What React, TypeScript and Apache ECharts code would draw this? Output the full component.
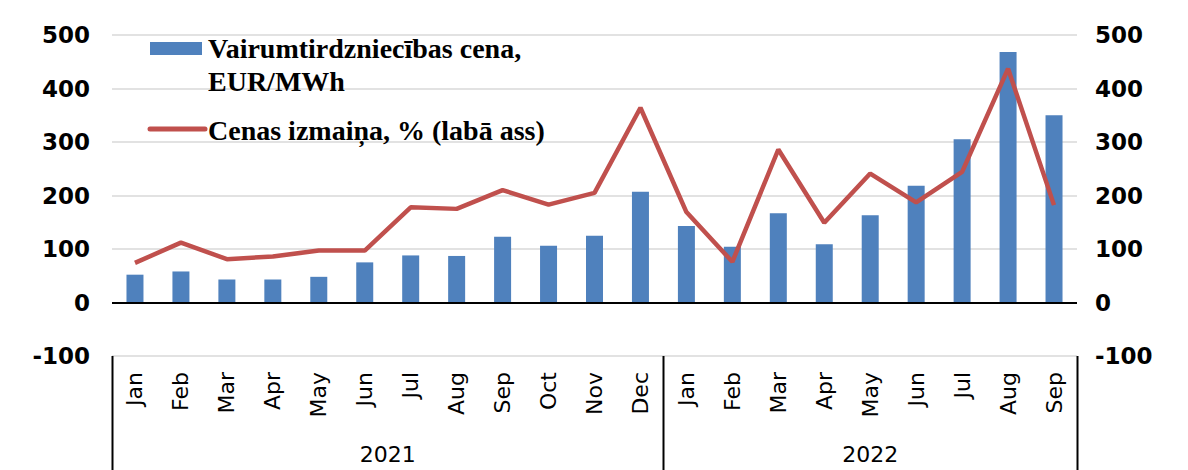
import React, { useEffect, useRef } from 'react';
import * as echarts from 'echarts';

const months = [
  'Jan', 'Feb', 'Mar', 'Apr', 'May', 'Jun', 'Jul', 'Aug', 'Sep', 'Oct', 'Nov', 'Dec',
  'Jan', 'Feb', 'Mar', 'Apr', 'May', 'Jun', 'Jul', 'Aug', 'Sep',
];
const years = ['2021', '2022'];
const yearCounts = [12, 9];

const priceName = 'Vairumtirdzniecības cena, EUR/MWh';
const changeName = 'Cenas izmaiņa, % (labā ass)';

const price = [52, 58, 43, 43, 48, 75, 88, 87, 123, 106, 125, 207, 143, 104, 167, 109, 163, 218, 305, 468, 350];
const change = [74, 112, 81, 86, 97, 97, 178, 175, 210, 183, 205, 364, 169, 76, 286, 149, 241, 187, 244, 437, 182];

const axisMin = -100;
const axisMax = 500;
const axisStep = 100;

export default function App() {
  const ref = useRef<HTMLDivElement>(null);

  useEffect(() => {
    const chart = echarts.init(ref.current!, null, { renderer: 'svg' });
    const yLabel = {
      fontFamily: 'DejaVu Sans',
      fontWeight: 'bold',
      fontSize: 23,
      color: '#000',
    };
    chart.setOption({
      animation: false,
      backgroundColor: '#fff',
      grid: { left: 112, right: 111, top: 35, bottom: 114 },
      xAxis: {
        type: 'category',
        data: months,
        axisLine: { show: false },
        axisTick: { show: false },
        axisLabel: {
          interval: 0,
          rotate: 90,
          margin: 16,
          fontFamily: 'DejaVu Sans',
          fontSize: 22,
          color: '#000',
        },
      },
      yAxis: [
        {
          type: 'value',
          min: axisMin,
          max: axisMax,
          interval: axisStep,
          axisLine: { show: false },
          axisTick: { show: false },
          axisLabel: { ...yLabel, margin: 22 },
          splitLine: { lineStyle: { color: '#d9d9d9', width: 1.5 } },
        },
        {
          type: 'value',
          min: axisMin,
          max: axisMax,
          interval: axisStep,
          axisLine: { show: false },
          axisTick: { show: false },
          axisLabel: { ...yLabel, margin: 18 },
          splitLine: { show: false },
        },
      ],
      series: [
        {
          name: priceName,
          type: 'bar',
          data: price,
          barWidth: 17,
          itemStyle: { color: '#4f81bd' },
          markLine: {
            silent: true,
            symbol: ['none', 'none'],
            label: { show: false },
            lineStyle: { color: '#000', width: 2, type: 'solid' },
            data: [{ yAxis: 0 }],
          },
        },
        {
          name: changeName,
          type: 'line',
          yAxisIndex: 1,
          data: change,
          symbol: 'none',
          lineStyle: { color: '#c0504d', width: 4.5 },
          itemStyle: { color: '#c0504d' },
          z: 5,
        },
      ],
    });

    const c0 = chart.convertToPixel({ xAxisIndex: 0 }, 0) as number;
    const c1 = chart.convertToPixel({ xAxisIndex: 0 }, 1) as number;
    const band = c1 - c0;
    const left = c0 - band / 2;
    const yTop = chart.convertToPixel({ yAxisIndex: 0 }, axisMin) as number;
    const h = chart.getHeight();

    const graphics: any[] = [];
    let start = 0;
    const bounds = [left];
    yearCounts.forEach((n, i) => {
      const x0 = left + start * band;
      const x1 = left + (start + n) * band;
      bounds.push(x1);
      graphics.push({
        type: 'text',
        x: (x0 + x1) / 2,
        y: 454,
        style: {
          text: years[i],
          font: '22px "DejaVu Sans"',
          fill: '#000',
          textAlign: 'center',
          textVerticalAlign: 'middle',
          align: 'center',
          verticalAlign: 'middle',
        },
      });
      start += n;
    });
    bounds.forEach((x) => {
      graphics.push({
        type: 'line',
        shape: { x1: Math.round(x) + 0.5, y1: yTop, x2: Math.round(x) + 0.5, y2: h },
        style: { stroke: '#000', lineWidth: 2 },
      });
    });

    const legendFont = 'bold 28px "Liberation Serif"';
    graphics.push(
      { type: 'rect', shape: { x: 150, y: 42, width: 52, height: 13 }, style: { fill: '#4f81bd' } },
      {
        type: 'text', x: 208, y: 48,
        style: { text: 'Vairumtirdzniecības cena,', font: legendFont, fill: '#000', textVerticalAlign: 'middle', verticalAlign: 'middle' },
      },
      {
        type: 'text', x: 208, y: 81,
        style: { text: 'EUR/MWh', font: legendFont, fill: '#000', textVerticalAlign: 'middle', verticalAlign: 'middle' },
      },
      {
        type: 'line', shape: { x1: 150, y1: 129, x2: 205, y2: 129 },
        style: { stroke: '#c0504d', lineWidth: 5, lineCap: 'round' },
      },
      {
        type: 'text', x: 208, y: 130,
        style: { text: 'Cenas izmaiņa, % (labā ass)', font: legendFont, fill: '#000', textVerticalAlign: 'middle', verticalAlign: 'middle' },
      },
    );
    chart.setOption({ graphic: graphics });

    return () => chart.dispose();
  }, []);

  return (
    <div
      ref={ref}
      style={{ position: 'absolute', left: 0, top: 0, width: 1188, height: 470 }}
    />
  );
}
